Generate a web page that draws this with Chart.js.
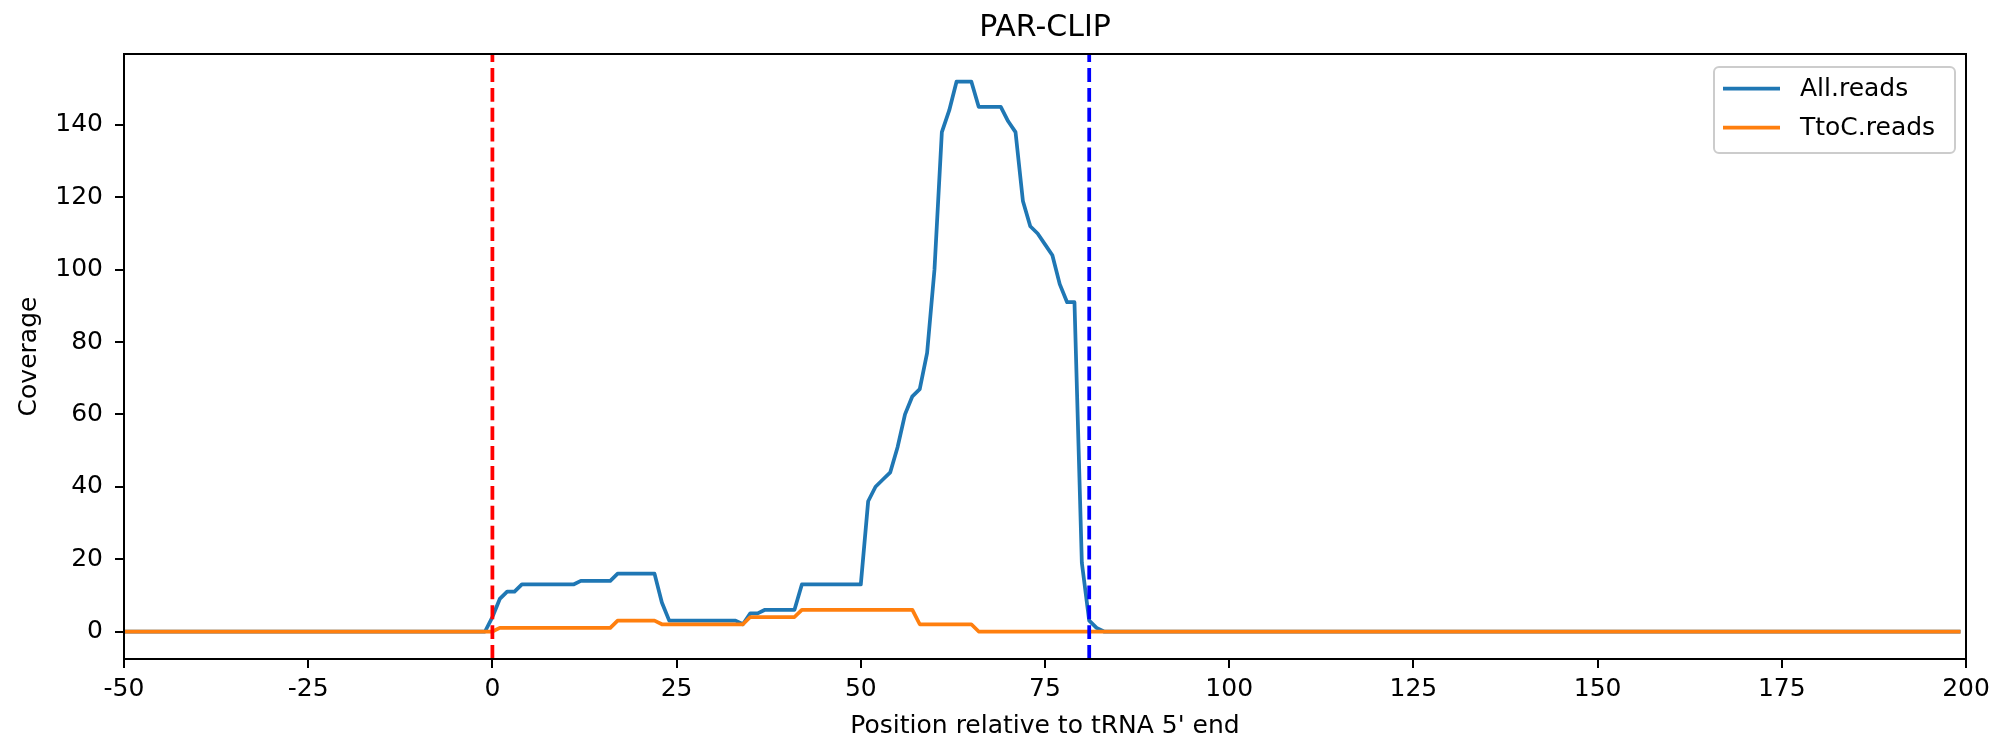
<!DOCTYPE html>
<html><head><meta charset="utf-8">
<script src="https://cdn.jsdelivr.net/npm/chart.js@4"></script>
<style>html,body{margin:0;padding:0;background:#fff}</style>
</head><body>
<canvas id="c" width="1998" height="741"></canvas>
<script>
// ---- data ----
const positions = [-50,-1,0,1,2,3,4,5,6,7,8,9,10,11,12,13,14,15,16,17,18,19,20,21,22,23,24,25,26,27,28,29,30,31,32,33,34,35,36,37,38,39,40,41,42,43,44,45,46,47,48,49,50,51,52,53,54,55,56,57,58,59,60,61,62,63,64,65,66,67,68,69,70,71,72,73,74,75,76,77,78,79,80,81,82,83,199];
const allReads = [0,0,
  4,9,11,11,13,13,13,13,13,13,13,13,14,14,14,14,14,16,16,16,16,16,16,8,
  3,3,3,3,3,3,3,3,3,3,2,5,5,6,6,6,6,6,13,13,13,13,13,13,13,13,13,
  36,40,42,44,51,60,65,67,77,100,138,144,152,152,152,145,145,145,145,
  141,138,119,112,110,107,104,96,91,91,19,3,1,0,
  0];
const ttocReads = [0,0,
  0,1,1,1,1,1,1,1,1,1,1,1,1,1,1,1,1,3,3,3,3,3,3,
  2,2,2,2,2,2,2,2,2,2,2,2,4,4,4,4,4,4,4,
  6,6,6,6,6,6,6,6,6,6,6,6,6,6,6,6,2,2,2,2,2,2,2,2,
  0,0,0,0,0,0,0,0,0,0,0,0,0,0,0,0,0,0,
  0];
const seriesLabels = ['All.reads', 'TtoC.reads'];
const seriesColors = ['#1f77b4', '#ff7f0e'];
const markerPositions = [0, 81];
const markerColors = ['#ff0000', '#0000ff'];
const xTicks = [-50, -25, 0, 25, 50, 75, 100, 125, 150, 175, 200];
const yTicks = [0, 20, 40, 60, 80, 100, 120, 140];
const xRange = [-50, 200];
const yRange = [-7.6, 159.6];
const chartTitle = 'PAR-CLIP';
const xLabel = "Position relative to tRNA 5' end";
const yLabel = 'Coverage';

// ---- styling ----
const FONT = 'DejaVu Sans';
const LW = 3.75;
const toPts = ys => positions.map((x, i) => ({x: x, y: ys[i]}));

const datasets = [
  {label: seriesLabels[0], data: toPts(allReads), borderColor: seriesColors[0], backgroundColor: seriesColors[0],
   borderWidth: LW, pointRadius: 0, tension: 0, borderJoinStyle: 'round', borderCapStyle: 'square', order: 2},
  {label: seriesLabels[1], data: toPts(ttocReads), borderColor: seriesColors[1], backgroundColor: seriesColors[1],
   borderWidth: LW, pointRadius: 0, tension: 0, borderJoinStyle: 'round', borderCapStyle: 'square', order: 1}
];
markerPositions.forEach((m, i) => {
  datasets.push({label: '_marker' + i, data: [{x: m, y: yRange[0]}, {x: m, y: yRange[1]}],
    borderColor: markerColors[i], borderWidth: LW, borderDash: [13.9, 6], pointRadius: 0, order: 0, isMarker: true});
});

const framePlugin = {
  id: 'frame',
  afterDatasetsDraw(chart) {
    const {ctx, chartArea: a} = chart;
    ctx.save();
    ctx.strokeStyle = '#000';
    ctx.lineWidth = 2;
    ctx.strokeRect(a.left, a.top, a.right - a.left, a.bottom - a.top);
    ctx.restore();
  }
};

const legendPlugin = {
  id: 'mplLegend',
  afterDraw(chart) {
    const {ctx, chartArea: a} = chart;
    const items = chart.data.datasets.filter(d => !d.isMarker);
    const w = 241, h = 86;
    const x0 = a.right - 11 - w, y0 = a.top + 13;
    ctx.save();
    ctx.beginPath();
    ctx.roundRect(x0, y0, w, h, 5);
    ctx.fillStyle = 'rgba(255,255,255,0.8)';
    ctx.fill();
    ctx.strokeStyle = '#cccccc';
    ctx.lineWidth = 2;
    ctx.stroke();
    ctx.font = '25px "' + FONT + '"';
    ctx.textBaseline = 'middle';
    ctx.textAlign = 'left';
    items.forEach((d, i) => {
      const y = y0 + 21.6 + i * 39;
      ctx.beginPath();
      ctx.moveTo(x0 + 9, y);
      ctx.lineTo(x0 + 66, y);
      ctx.strokeStyle = d.borderColor;
      ctx.lineWidth = LW;
      ctx.stroke();
      ctx.fillStyle = '#000';
      ctx.fillText(d.label, x0 + 86, y + 1);
    });
    ctx.restore();
  }
};

new Chart(document.getElementById('c'), {
  type: 'line',
  data: {datasets: datasets},
  options: {
    responsive: false,
    animation: false,
    devicePixelRatio: 1,
    layout: {padding: {left: 0, right: 32, top: 0, bottom: 0}},
    plugins: {
      legend: {display: false},
      tooltip: {enabled: false},
      title: {display: true, text: chartTitle, color: '#000', fullSize: false,
        font: {family: FONT, size: 30, weight: 'normal', lineHeight: 1.2}, padding: {top: 10, bottom: 8}}
    },
    scales: {
      x: {
        type: 'linear', min: xRange[0], max: xRange[1],
        afterBuildTicks: s => { s.ticks = xTicks.map(v => ({value: v})); },
        afterFit: s => { s.height = 82; },
        ticks: {color: '#000', font: {family: FONT, size: 25}, padding: 6, maxRotation: 0, autoSkip: false,
          callback: v => String(v)},
        grid: {display: true, drawOnChartArea: false, drawTicks: true, tickLength: 9, color: '#000', lineWidth: 2},
        border: {display: false},
        title: {display: true, text: xLabel, color: '#000', font: {family: FONT, size: 25, lineHeight: 1.2}, padding: {top: 0, bottom: 0}}
      },
      y: {
        type: 'linear', min: yRange[0], max: yRange[1],
        afterBuildTicks: s => { s.ticks = yTicks.map(v => ({value: v})); },
        afterFit: s => { s.width = 124; },
        ticks: {color: '#000', font: {family: FONT, size: 25}, padding: 12, callback: v => String(v)},
        grid: {display: true, drawOnChartArea: false, drawTicks: true, tickLength: 9, color: '#000', lineWidth: 2},
        border: {display: false},
        title: {display: true, text: yLabel, color: '#000', font: {family: FONT, size: 25, lineHeight: 1.2}, padding: {top: 14, bottom: 0}}
      }
    }
  },
  plugins: [framePlugin, legendPlugin]
});
</script>
</body></html>
